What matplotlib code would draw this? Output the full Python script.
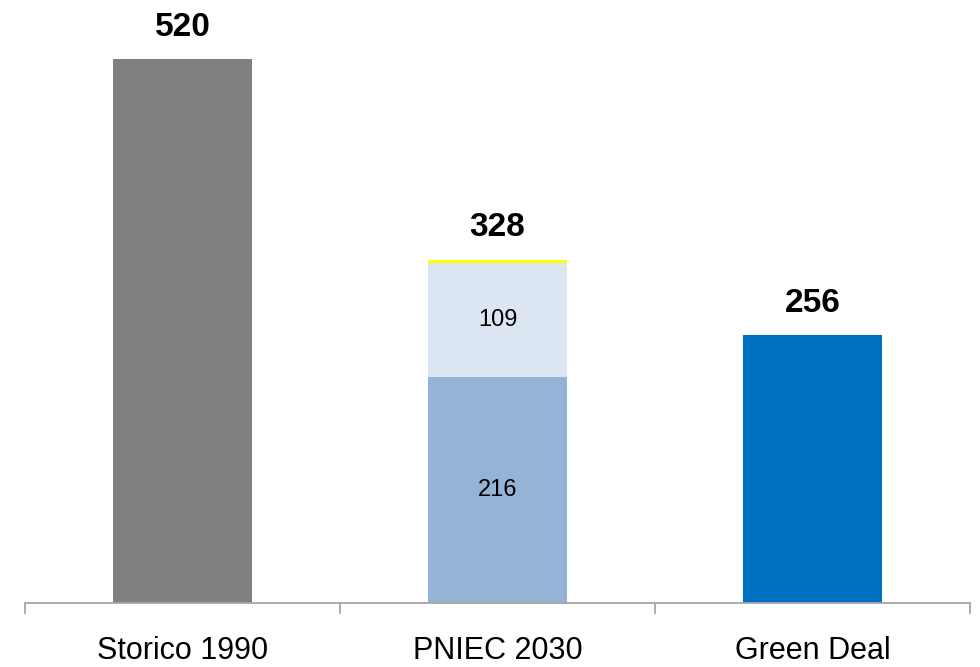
import numpy as np
import matplotlib.pyplot as plt
from matplotlib import font_manager

categories = ["Storico 1990", "PNIEC 2030", "Green Deal"]
totals = [520, 328, 256]
pniec_base = 216
pniec_mid = 109
pniec_top = 3

narrow = "Liberation Sans Narrow"
names = {f.name for f in font_manager.fontManager.ttflist}
if narrow not in names:
    narrow = "Liberation Sans"

fig = plt.figure(figsize=(9.8, 6.67), dpi=100)
ax = fig.add_axes([25 / 980, 64 / 667, 945 / 980, 603 / 667])

x = np.arange(len(categories))
w = 0.444

ax.bar(x[0], totals[0], w, color="#808080")
ax.bar(x[1], pniec_base, w, color="#95B3D7")
ax.bar(x[1], pniec_mid, w, bottom=pniec_base, color="#DCE6F2")
ax.bar(x[1], pniec_top, w, bottom=pniec_base + pniec_mid, color="#FFFF00")
ax.bar(x[2], totals[2], w, color="#0070C0")

for xi, t in zip(x, totals):
    ax.annotate(str(t), (xi, t), xytext=(0, 23), textcoords="offset points",
                ha="center", va="center", fontsize=24, fontweight="bold",
                family=narrow, color="black")

ax.text(x[1], pniec_base / 2, str(pniec_base), ha="center", va="center",
        fontsize=17, family="Liberation Sans", color="black")
ax.text(x[1], pniec_base + pniec_mid / 2, str(pniec_mid), ha="center", va="center",
        fontsize=17, family="Liberation Sans", color="black")

ax.set_xlim(-0.5, 2.5)
ax.set_ylim(0, 603 / 1.046)

for s in ["top", "right", "left"]:
    ax.spines[s].set_visible(False)
ax.spines["bottom"].set_color("#A6A6A6")
ax.spines["bottom"].set_linewidth(1.3)

ax.set_yticks([])
ax.set_xticks([-0.5, 0.5, 1.5, 2.5], minor=False)
ax.set_xticklabels([])
ax.tick_params(axis="x", which="major", length=8, width=1.3, color="#A6A6A6")
ax.set_xticks(x, minor=True)
ax.set_xticklabels(categories, minor=True, fontsize=22, family=narrow)
ax.tick_params(axis="x", which="minor", length=0, pad=24)

fig.savefig("out.png", dpi=100)
